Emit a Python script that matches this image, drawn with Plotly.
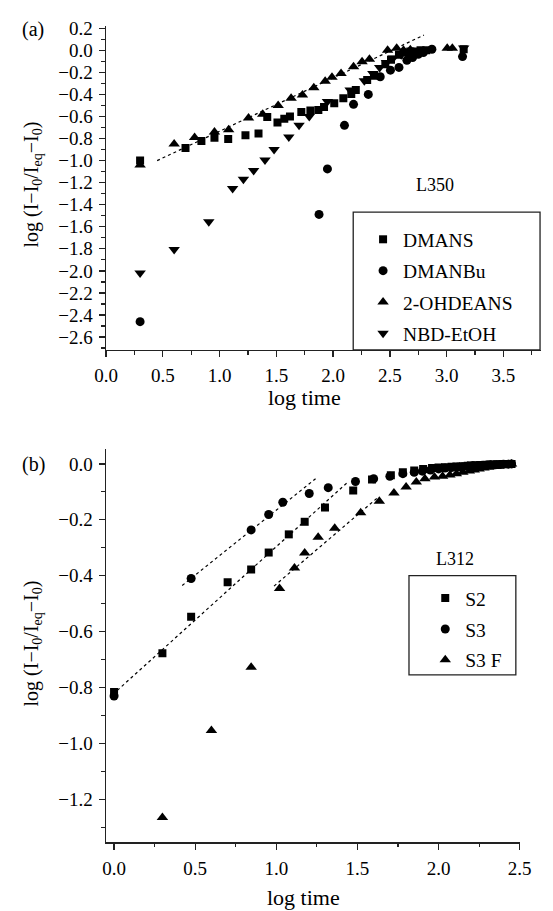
import plotly.graph_objects as go

# ---------------- Panel (a) data: L350 ----------------
dmans_x = [0.30, 0.70, 0.84, 0.955, 1.076, 1.228, 1.343, 1.42, 1.51, 1.57, 1.62, 1.72, 1.80, 1.87, 1.92, 2.01,
           2.09, 2.16, 2.20, 2.30, 2.36, 2.46, 2.51, 2.58, 2.63, 2.68, 2.72, 2.77, 2.82, 3.15]
dmans_y = [-1.00, -0.885, -0.823, -0.793, -0.805, -0.77, -0.755, -0.605, -0.655, -0.62, -0.60, -0.56, -0.545,
           -0.54, -0.515, -0.48, -0.435, -0.395, -0.36, -0.27, -0.23, -0.126, -0.086, -0.04, -0.02, -0.01,
           -0.01, 0.0, 0.0, 0.01]

dmanbu_x = [0.30, 1.876, 1.95, 2.10, 2.18, 2.31, 2.415, 2.505, 2.58, 2.65, 2.70, 2.75, 2.795, 2.87, 3.14]
dmanbu_y = [-2.46, -1.488, -1.075, -0.68, -0.49, -0.40, -0.24, -0.18, -0.155, -0.09, -0.066, -0.036, -0.02,
            0.01, -0.057]

ohdeans_x = [0.30, 0.60, 0.78, 0.955, 1.08, 1.255, 1.38, 1.516, 1.63, 1.73, 1.83, 1.93, 1.99, 2.07, 2.18,
             2.255, 2.32, 2.48, 2.56, 2.62, 2.68, 3.005, 3.05]
ohdeans_y = [-1.04, -0.85, -0.79, -0.74, -0.72, -0.614, -0.58, -0.50, -0.434, -0.404, -0.34, -0.28, -0.245,
             -0.21, -0.15, -0.104, -0.08, 0.0, 0.018, 0.0, 0.005, 0.018, 0.018]

nbd_x = [0.30, 0.60, 0.905, 1.115, 1.21, 1.30, 1.40, 1.48, 1.61, 1.70, 1.79, 1.95, 2.15, 2.275, 2.35, 2.41,
         2.47, 2.53, 2.60, 2.67, 2.74, 3.15]
nbd_y = [-2.02, -1.806, -1.554, -1.254, -1.168, -1.09, -0.994, -0.90, -0.785, -0.68, -0.60, -0.465, -0.36,
         -0.275, -0.21, -0.155, -0.11, -0.07, -0.04, -0.02, -0.01, 0.02]

fit_a_x = [0.45, 2.80]
fit_a_y = [-1.0, 0.138]

# ---------------- Panel (b) data: L312 ----------------
s2_x = [0.0, 0.298, 0.475, 0.70, 0.845, 0.953, 1.077, 1.175, 1.30, 1.474, 1.59, 1.706, 1.78, 1.85, 1.905,
        1.96, 2.00, 2.04, 2.08, 2.11, 2.15, 2.18, 2.20, 2.23, 2.26, 2.28, 2.30, 2.32, 2.34, 2.36, 2.38, 2.40,
        2.42, 2.44, 2.45]
s2_y = [-0.816, -0.677, -0.547, -0.423, -0.378, -0.317, -0.252, -0.207, -0.156, -0.095, -0.056, -0.041,
        -0.03, -0.024, -0.018, -0.015, -0.013, -0.012, -0.01, -0.009, -0.008, -0.007, -0.006, -0.005, -0.004,
        -0.004, -0.003, -0.003, -0.002, -0.002, -0.001, -0.001, 0.0, 0.0, 0.0]

s3_x = [0.0, 0.475, 0.845, 0.953, 1.04, 1.203, 1.32, 1.488, 1.60, 1.70, 1.78, 1.85, 1.90, 1.95, 2.00, 2.04,
        2.08, 2.12, 2.15, 2.18, 2.21, 2.24, 2.27, 2.30, 2.32, 2.35, 2.38, 2.40, 2.43, 2.45]
s3_y = [-0.83, -0.41, -0.236, -0.181, -0.137, -0.106, -0.085, -0.063, -0.053, -0.044, -0.035, -0.03, -0.026,
        -0.022, -0.018, -0.015, -0.013, -0.011, -0.01, -0.008, -0.007, -0.006, -0.005, -0.004, -0.003,
        -0.003, -0.002, -0.001, -0.001, 0.0]

s3f_x = [0.298, 0.60, 0.845, 1.02, 1.112, 1.175, 1.258, 1.36, 1.52, 1.635, 1.725, 1.80, 1.863, 1.916, 1.975,
         2.025, 2.07, 2.11, 2.15, 2.19, 2.22, 2.25, 2.28, 2.31, 2.34, 2.37, 2.40, 2.43, 2.45]
s3f_y = [-1.265, -0.954, -0.727, -0.446, -0.372, -0.319, -0.262, -0.23, -0.175, -0.134, -0.104, -0.083,
         -0.065, -0.053, -0.047, -0.044, -0.04, -0.035, -0.03, -0.025, -0.022, -0.018, -0.015, -0.012,
         -0.009, -0.007, -0.005, -0.002, 0.0]

fit_s2_x = [0.02, 1.435]
fit_s2_y = [-0.81, -0.068]
fit_s3_x = [0.42, 1.242]
fit_s3_y = [-0.435, -0.053]
fit_s3f_x = [0.986, 1.63]
fit_s3f_y = [-0.437, -0.118]

# ---------------- Figure ----------------
W, H = 553, 911
FONT = "Liberation Serif, Times New Roman, serif"
BLACK = "#000000"
AX = "#222222"

fig = go.Figure()

def pts(x, y, name, symbol, xa, ya, legend, size=9):
    fig.add_trace(go.Scatter(
        x=x, y=y, mode="markers", name=name, xaxis=xa, yaxis=ya, legend=legend,
        legendgroup=name,
        marker=dict(symbol=symbol, size=size, color=BLACK, line=dict(width=0))))

def fit(x, y, xa, ya):
    fig.add_trace(go.Scatter(
        x=x, y=y, mode="lines", showlegend=False, xaxis=xa, yaxis=ya,
        line=dict(color=BLACK, width=1.2, dash="dot")))

fit(fit_a_x, fit_a_y, "x", "y")
pts(dmans_x, dmans_y, "DMANS", "square", "x", "y", "legend", 8)
pts(dmanbu_x, dmanbu_y, "DMANBu", "circle", "x", "y", "legend", 9)
pts(ohdeans_x, ohdeans_y, "2-OHDEANS", "triangle-up", "x", "y", "legend", 10)
pts(nbd_x, nbd_y, "NBD-EtOH", "triangle-down", "x", "y", "legend", 10)

fit(fit_s2_x, fit_s2_y, "x2", "y2")
fit(fit_s3_x, fit_s3_y, "x2", "y2")
fit(fit_s3f_x, fit_s3f_y, "x2", "y2")
pts(s2_x, s2_y, "S2", "square", "x2", "y2", "legend2", 8)
pts(s3_x, s3_y, "S3", "circle", "x2", "y2", "legend2", 9)
pts(s3f_x, s3f_y, "S3 F", "triangle-up", "x2", "y2", "legend2", 10)

def px_x(p):
    return p / W

def px_y(p):
    return 1 - p / H

tickfont = dict(family=FONT, size=19, color=BLACK)

def axis(domain, rng, dtick, minor_dtick, anchor, fmt):
    return dict(domain=domain, range=rng, dtick=dtick, tick0=0, tickformat=fmt,
                showline=True, linecolor=AX, linewidth=1.5, mirror=False,
                ticks="outside", ticklen=6, tickwidth=1.3, tickcolor=AX,
                minor=dict(dtick=minor_dtick, tick0=0, ticks="outside", ticklen=3.5, tickwidth=1.2, tickcolor=AX),
                showgrid=False, zeroline=False, anchor=anchor, tickfont=tickfont, ticklabelstandoff=2)

# panel a geometry (pixels)
ax_l, ax_r, ay_t, ay_b = 98.3, 553.0, 18.0, 345.0
# panel b geometry
bx_l, bx_r, by_t, by_b = 98.3, 530.7, 445.0, 841.7

fig.update_layout(
    width=W, height=H, margin=dict(l=0, r=0, t=0, b=0),
    paper_bgcolor="white", plot_bgcolor="white",
    font=dict(family=FONT, color=BLACK),
    xaxis=axis([px_x(ax_l), px_x(ax_r)], [0, 3.831], 0.5, 0.25, "y", ".1f"),
    yaxis=axis([px_y(ay_b), px_y(ay_t)], [-2.717, 0.222], 0.2, 0.1, "x", ".1f"),
    xaxis2=axis([px_x(bx_l), px_x(bx_r)], [-0.0495, 2.5], 0.5, 0.25, "y2", ".1f"),
    yaxis2=axis([px_y(by_b), px_y(by_t)], [-1.3535, 0.053], 0.2, 0.1, "x2", ".1f"),
    legend=dict(x=px_x(367), y=px_y(214), xanchor="left", yanchor="top",
                bgcolor="rgba(0,0,0,0)", borderwidth=0, tracegroupgap=3,
                font=dict(family=FONT, size=19.5, color=BLACK), itemsizing="trace"),
    legend2=dict(x=px_x(432), y=px_y(576), xanchor="left", yanchor="top",
                 bgcolor="rgba(0,0,0,0)", borderwidth=0, tracegroupgap=2.5,
                 font=dict(family=FONT, size=19.5, color=BLACK), itemsizing="trace"),
    showlegend=True,
)

# legend frames
fig.add_shape(type="rect", xref="paper", yref="paper",
              x0=px_x(356.7), x1=px_x(552.0), y0=px_y(345.0), y1=px_y(206.0),
              line=dict(color=AX, width=1.3), fillcolor="rgba(0,0,0,0)")
fig.add_shape(type="rect", xref="paper", yref="paper",
              x0=px_x(415.0), x1=px_x(526.7), y0=px_y(672.7), y1=px_y(572.7),
              line=dict(color=AX, width=1.3), fillcolor="rgba(0,0,0,0)")

ytitle = "log (I\u2212I<sub>0</sub>/I<sub>eq</sub>\u2212I<sub>0</sub>)"

def ann(text, x, y, size, angle=0):
    fig.add_annotation(text=text, xref="paper", yref="paper", x=px_x(x), y=px_y(y),
                       xanchor="center", yanchor="middle", showarrow=False, textangle=angle,
                       font=dict(family=FONT, size=size, color=BLACK))

ann("(a)", 22, 22, 20)
ann("(b)", 22, 461, 20)
ann("L350", 442, 179, 18)
ann("L312", 463.5, 556, 18)
ann(ytitle, 21, 178, 20, -90)
ann(ytitle, 21, 641, 20, -90)
ann("log time", 306, 393, 22)
ann("log time", 305, 897, 22)

fig.write_html("out.html", config={"displayModeBar": False, "staticPlot": True},
               post_script="document.body.style.margin='0';document.body.style.overflow='hidden';")
